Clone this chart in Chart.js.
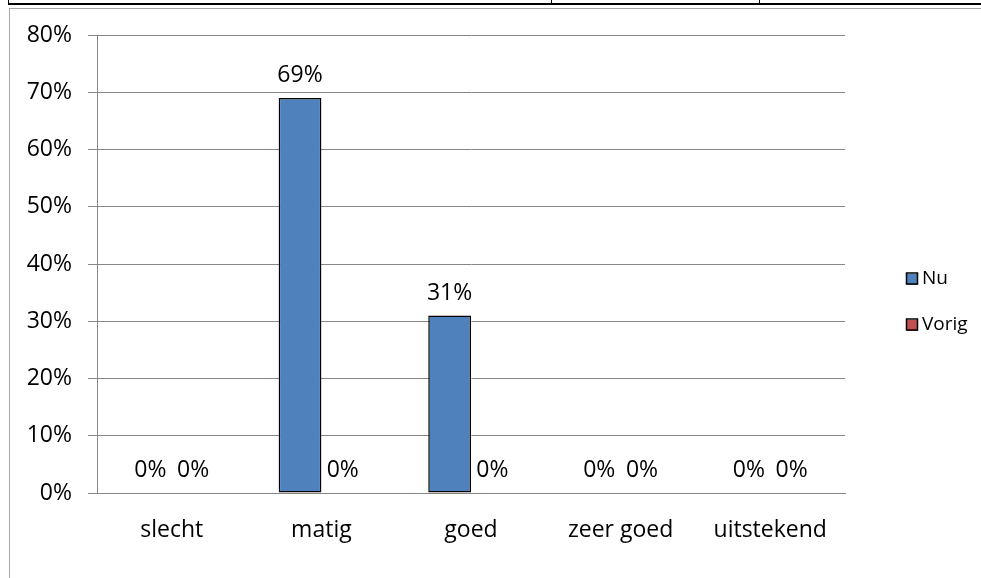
<!DOCTYPE html>
<html>
<head>
<meta charset="utf-8">
<script src="https://cdn.jsdelivr.net/npm/chart.js@4.4.1/dist/chart.umd.min.js"></script>
<style>
    html, body { margin: 0; padding: 0; background: #fff; }
    #wrap { position: relative; width: 981px; height: 578px; overflow: hidden; }
    canvas { display: block; }
</style>
</head>
<body>
<div id="wrap"><canvas id="ratingChart" width="981" height="578"></canvas></div>
<script>
// chart values
const categories = ['slecht', 'matig', 'goed', 'zeer goed', 'uitstekend'];
const nuValues = [0, 69, 31, 0, 0];
const vorigValues = [0, 0, 0, 0, 0];
const seriesNames = ['Nu', 'Vorig'];
const yTicks = [0, 10, 20, 30, 40, 50, 60, 70, 80];

const FONT = '"Open Sans", Lato, sans-serif';

document.addEventListener('DOMContentLoaded', function() {

    // table border at the top + gray frame round the chart
    const framePlugin = {
        id: 'frame',
        beforeDraw(chart) {
            const c = chart.ctx;
            c.save();
            c.fillStyle = '#000';
            c.fillRect(8, 3, 973, 2);
            c.fillRect(8, 0, 1, 4);
            c.fillRect(551, 0, 1, 4);
            c.fillRect(759, 0, 1, 4);
            c.fillStyle = '#a6a6a6';
            c.fillRect(9, 8, 972, 1);
            c.fillRect(9, 8, 1, 570);
            c.restore();
        }
    };

    // percentage labels above each bar
    const valueLabels = {
        id: 'valueLabels',
        afterDatasetsDraw(chart) {
            const c = chart.ctx;
            c.save();
            c.font = '23px ' + FONT;
            c.fillStyle = '#000';
            c.textAlign = 'center';
            c.textBaseline = 'alphabetic';
            chart.data.datasets.forEach(function(ds, i) {
                chart.getDatasetMeta(i).data.forEach(function(bar, j) {
                    c.fillText(Math.round(ds.data[j]) + '%', bar.x, bar.y - 16);
                });
            });
            c.restore();
        }
    };

    // legend on the right, drawn by hand
    const sideLegend = {
        id: 'sideLegend',
        afterDraw(chart) {
            const c = chart.ctx;
            c.save();
            c.font = '19px ' + FONT;
            c.textBaseline = 'middle';
            c.textAlign = 'left';
            chart.data.datasets.forEach(function(ds, i) {
                const y = 279 + i * 46;
                c.fillStyle = ds.backgroundColor;
                c.fillRect(907, y - 5, 11, 11);
                c.strokeStyle = '#000';
                c.lineWidth = 1.5;
                c.strokeRect(906.5, y - 6, 11, 11);
                c.fillStyle = '#000';
                c.fillText(ds.label, 922, y);
            });
            c.restore();
        }
    };

    const ctx = document.getElementById('ratingChart').getContext('2d');
    new Chart(ctx, {
        type: 'bar',
        data: {
            labels: categories,
            datasets: [{
                label: seriesNames[0],
                data: nuValues,
                backgroundColor: '#4f81bd',
                borderColor: '#000',
                borderWidth: function(c) { return c.raw === 0 ? 0 : 1.5; },
                borderSkipped: false
            }, {
                label: seriesNames[1],
                data: vorigValues,
                backgroundColor: '#c0504d',
                borderColor: '#000',
                borderWidth: function(c) { return c.raw === 0 ? 0 : 1.5; },
                borderSkipped: false
            }]
        },
        options: {
            responsive: false,
            animation: false,
            events: [],
            layout: { padding: { left: 0, top: 35, right: 136, bottom: 0 } },
            datasets: {
                bar: { categoryPercentage: 2 / 3.5, barPercentage: 1 }
            },
            plugins: {
                legend: { display: false },
                tooltip: { enabled: false }
            },
            scales: {
                x: {
                    grid: { display: false, drawTicks: false },
                    border: { display: true, color: '#868686', width: 1 },
                    ticks: {
                        font: { family: FONT, size: 23 },
                        color: '#000',
                        padding: 24,
                        maxRotation: 0,
                        autoSkip: false
                    },
                    afterFit(scale) { scale.height = 85; }
                },
                y: {
                    min: 0,
                    max: 80,
                    afterBuildTicks(scale) {
                        scale.ticks = yTicks.map(function(v) { return { value: v }; });
                    },
                    grid: {
                        color: '#868686',
                        lineWidth: 1,
                        drawTicks: true,
                        tickLength: 9,
                        tickColor: '#868686'
                    },
                    border: { display: true, color: '#868686', width: 1 },
                    ticks: {
                        font: { family: FONT, size: 23 },
                        color: '#000',
                        padding: 16,
                        callback: function(v) { return v + '%'; }
                    },
                    afterFit(scale) { scale.width = 97; }
                }
            }
        },
        plugins: [framePlugin, valueLabels, sideLegend]
    });
});
</script>
</body>
</html>
